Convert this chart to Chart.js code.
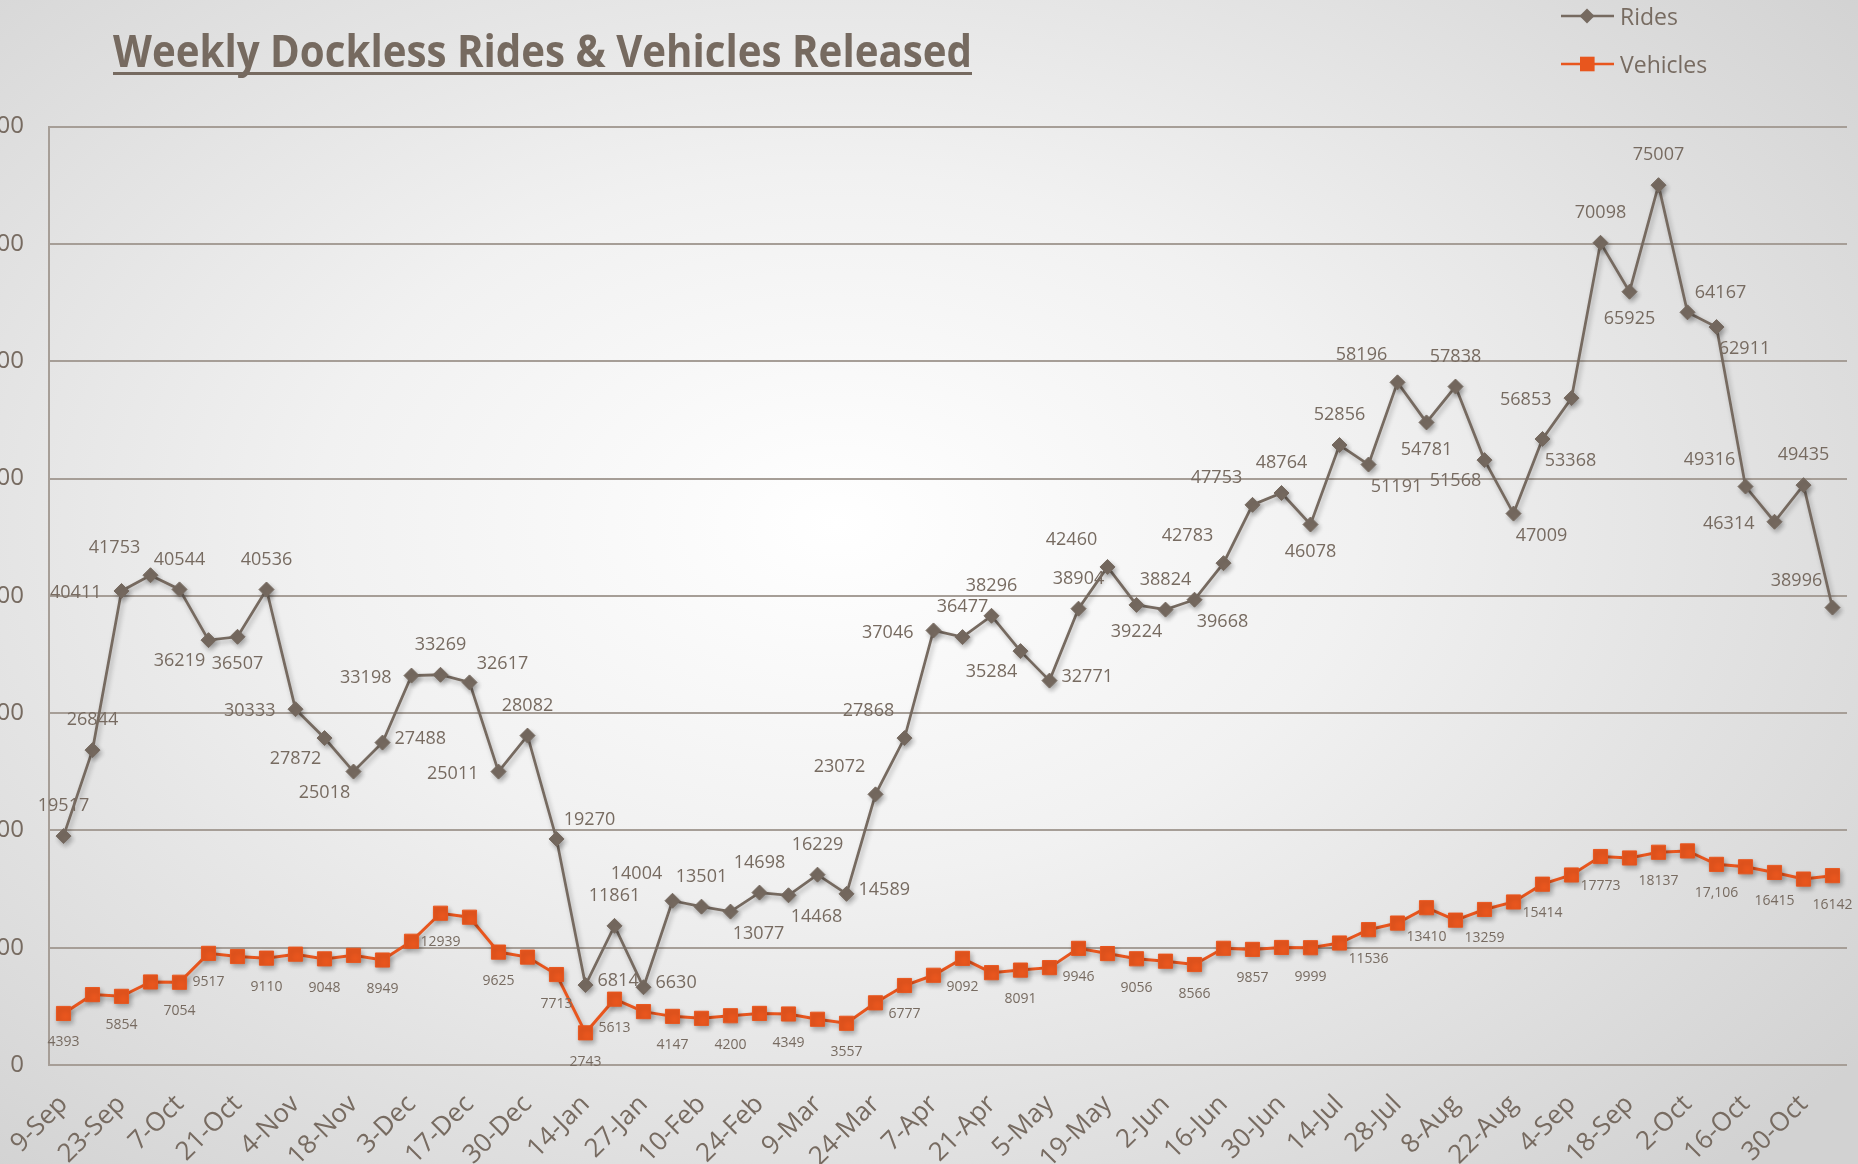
<!DOCTYPE html>
<html>
<head>
<meta charset="utf-8">
<title>Weekly Dockless Rides &amp; Vehicles Released</title>
<script src="https://cdn.jsdelivr.net/npm/chart.js@4.4.1/dist/chart.umd.min.js"></script>
<style>
    html, body { margin: 0; padding: 0; width: 1858px; height: 1164px; overflow: hidden; }
    body { background: radial-gradient(ellipse 70% 75% at 45% 45%, #ffffff 0%, #f1f1f1 40%, #d2d2d2 100%); }
    #wrap { position: absolute; left: -51px; top: 0; width: 1909px; height: 1164px; }
</style>
</head>
<body>
<div id="wrap"><canvas id="ridesChart"></canvas></div>
<script>
// 週次 (every other one is shown on the axis)
const weeks = [
    '9-Sep', '16-Sep', '23-Sep', '30-Sep', '7-Oct', '14-Oct', '21-Oct', '28-Oct', '4-Nov', '11-Nov',
    '18-Nov', '25-Nov', '3-Dec', '10-Dec', '17-Dec', '24-Dec', '30-Dec', '7-Jan', '14-Jan', '21-Jan',
    '27-Jan', '3-Feb', '10-Feb', '17-Feb', '24-Feb', '3-Mar', '9-Mar', '17-Mar', '24-Mar', '31-Mar',
    '7-Apr', '14-Apr', '21-Apr', '28-Apr', '5-May', '12-May', '19-May', '26-May', '2-Jun', '9-Jun',
    '16-Jun', '23-Jun', '30-Jun', '7-Jul', '14-Jul', '21-Jul', '28-Jul', '1-Aug', '8-Aug', '15-Aug',
    '22-Aug', '29-Aug', '4-Sep', '11-Sep', '18-Sep', '25-Sep', '2-Oct', '9-Oct', '16-Oct', '23-Oct',
    '30-Oct', '6-Nov'
];

const rides = [
    19517, 26844, 40411, 41753, 40544, 36219, 36507, 40536, 30333, 27872,
    25018, 27488, 33198, 33269, 32617, 25011, 28082, 19270, 6814, 11861,
    6630, 14004, 13501, 13077, 14698, 14468, 16229, 14589, 23072, 27868,
    37046, 36477, 38296, 35284, 32771, 38904, 42460, 39224, 38824, 39668,
    42783, 47753, 48764, 46078, 52856, 51191, 58196, 54781, 57838, 51568,
    47009, 53368, 56853, 70098, 65925, 75007, 64167, 62911, 49316, 46314,
    49435, 38996
];

const vehicles = [
    4393, 6000, 5854, 7080, 7054, 9517, 9250, 9110, 9450, 9048,
    9350, 8949, 10550, 12939, 12600, 9625, 9200, 7713, 2743, 5613,
    4550, 4147, 3980, 4200, 4400, 4349, 3900, 3557, 5300, 6777,
    7650, 9092, 7870, 8091, 8300, 9946, 9500, 9056, 8850, 8566,
    9950, 9857, 10020, 9999, 10400, 11536, 12100, 13410, 12350, 13259,
    13900, 15414, 16200, 17773, 17650, 18137, 18250, 17106, 16900, 16415,
    15850, 16142
];

// y 軸刻度
const yMin = 0;
const yMax = 80000;
const yStep = 10000;

// 數據標籤位置 (a=above, b=below, l=left, r=right ...)
const rideLabelPos = [
    'a', 'a', 'l', 'al', 'a', 'bl', 'b', 'a', 'l', 'bl',
    'bl', 'r', 'l', 'a', 'ar', 'l', 'a', 'ar', 'r', 'a',
    'r', 'al', 'a', 'br', 'a', 'br', 'a', 'r', 'al', 'al',
    'l', 'a', 'a', 'bl', 'r', 'a', 'al', 'b', 'a', 'br',
    'al', 'al', 'a', 'b', 'a', 'br', 'al', 'b', 'a', 'bl',
    'br', 'br', 'l', 'a', 'b', 'a', 'ar', 'br', 'al', 'l',
    'a', 'al'
];

// 只有這些點顯示車輛數標籤
const vehicleLabelIdx = [
    0, 2, 4, 5, 7, 9, 11, 13, 15, 17, 18, 19, 21, 23, 25, 27, 29, 31, 33, 35,
    37, 39, 41, 43, 45, 47, 49, 51, 53, 55, 57, 59, 61
];
const vehicleCommaIdx = [57];

const TITLE = 'Weekly Dockless Rides & Vehicles Released';
const TAUPE = '#766a60';
const ORANGE = '#e8561e';
const GRID = '#a69e97';
const TEXT = '#776b61';
const FONT = "'Open Sans', 'Noto Sans', sans-serif";

const labelOffsets = {
    a:  [0, -30, 'center'],
    b:  [0, 27, 'center'],
    l:  [-20, 2, 'right'],
    r:  [12, -4, 'left'],
    al: [-36, -27, 'center'],
    ar: [33, -19, 'center'],
    bl: [-29, 21, 'center'],
    br: [28, 22, 'center']
};

// 畫數據標籤
function drawValueLabels(chart) {
    const ctx = chart.ctx;
    const rideMeta = chart.getDatasetMeta(0);
    const vehMeta = chart.getDatasetMeta(1);
    ctx.save();
    ctx.fillStyle = TEXT;
    ctx.textBaseline = 'middle';
    ctx.font = `18px ${FONT}`;
    rideMeta.data.forEach((pt, i) => {
        const [dx, dy, align] = labelOffsets[rideLabelPos[i]];
        ctx.textAlign = align;
        ctx.fillText(String(rides[i]), pt.x + dx, pt.y + dy);
    });
    ctx.font = `14px ${FONT}`;
    ctx.textAlign = 'center';
    vehicleLabelIdx.forEach(i => {
        const pt = vehMeta.data[i];
        const txt = vehicleCommaIdx.includes(i) ? vehicles[i].toLocaleString('en-US') : String(vehicles[i]);
        ctx.fillText(txt, pt.x, pt.y + 29);
    });
    ctx.restore();
}

// 標題 (壓窄以接近原圖字體)
function drawTitle(chart) {
    const ctx = chart.ctx;
    const area = chart.chartArea;
    const x = area.left + 64;
    const y = 67;
    const targetWidth = 859;
    ctx.save();
    ctx.font = `bold 45px ${FONT}`;
    const w = ctx.measureText(TITLE).width;
    ctx.translate(x, y);
    ctx.scale(targetWidth / w, 1);
    ctx.fillStyle = TAUPE;
    ctx.textAlign = 'left';
    ctx.textBaseline = 'alphabetic';
    ctx.fillText(TITLE, 0, 0);
    ctx.restore();
    ctx.save();
    ctx.fillStyle = TAUPE;
    ctx.fillRect(x, y + 5, targetWidth, 3);
    ctx.restore();
}

// 圖例
function drawLegend(chart) {
    const ctx = chart.ctx;
    const x0 = chart.chartArea.right - 286;
    const items = chart.data.datasets;
    const rows = [16, 64];
    ctx.save();
    items.forEach((ds, i) => {
        const y = rows[i];
        ctx.strokeStyle = ds.borderColor;
        ctx.lineWidth = 2.5;
        ctx.beginPath();
        ctx.moveTo(x0, y);
        ctx.lineTo(x0 + 53, y);
        ctx.stroke();
        ctx.fillStyle = ds.borderColor;
        ctx.beginPath();
        if (ds.pointStyle === 'rectRot') {
            ctx.moveTo(x0 + 26, y - 7.5);
            ctx.lineTo(x0 + 33.5, y);
            ctx.lineTo(x0 + 26, y + 7.5);
            ctx.lineTo(x0 + 18.5, y);
            ctx.closePath();
        } else {
            ctx.rect(x0 + 19, y - 7.3, 14.6, 14.6);
        }
        ctx.fill();
        ctx.fillStyle = TEXT;
        ctx.font = `23px ${FONT}`;
        ctx.textAlign = 'left';
        ctx.textBaseline = 'alphabetic';
        ctx.fillText(ds.label, x0 + 59, y + 8.5);
    });
    ctx.restore();
}

const decorPlugin = {
    id: 'decor',
    beforeDatasetsDraw(chart) {
        const c = chart.ctx;
        c.save();
        c.shadowColor = 'rgba(0, 0, 0, 0.28)';
        c.shadowBlur = 5;
        c.shadowOffsetX = 2;
        c.shadowOffsetY = 3;
    },
    afterDatasetsDraw(chart) {
        chart.ctx.restore();
        drawValueLabels(chart);
    },
    afterDraw(chart) {
        drawTitle(chart);
        drawLegend(chart);
    }
};

document.addEventListener('DOMContentLoaded', () => {
    const ctx = document.getElementById('ridesChart').getContext('2d');
    new Chart(ctx, {
        type: 'line',
        data: {
            labels: weeks,
            datasets: [{
                label: 'Rides',
                data: rides,
                borderColor: TAUPE,
                backgroundColor: TAUPE,
                borderWidth: 2.75,
                pointStyle: 'rectRot',
                pointRadius: 7.5,
                pointBorderWidth: 1,
                pointBackgroundColor: TAUPE,
                pointBorderColor: TAUPE,
                tension: 0,
                fill: false
            }, {
                label: 'Vehicles',
                data: vehicles,
                borderColor: ORANGE,
                backgroundColor: ORANGE,
                borderWidth: 3,
                pointStyle: 'rect',
                pointRadius: 10,
                pointBorderWidth: 1,
                pointBackgroundColor: ORANGE,
                pointBorderColor: ORANGE,
                tension: 0,
                fill: false
            }]
        },
        options: {
            responsive: true,
            maintainAspectRatio: false,
            animation: false,
            layout: {
                padding: { top: 126.6, right: 8.5, bottom: 0, left: 0 }
            },
            plugins: {
                legend: { display: false },
                title: { display: false },
                tooltip: { enabled: false }
            },
            scales: {
                x: {
                    offset: true,
                    grid: { display: false, drawTicks: false },
                    border: { display: false },
                    ticks: {
                        autoSkip: false,
                        minRotation: 45,
                        maxRotation: 45,
                        padding: 24,
                        color: TEXT,
                        font: { family: FONT, size: 26 },
                        callback(value, index) {
                            return index % 2 === 0 ? this.getLabelForValue(value) : '';
                        }
                    },
                    afterFit(scale) {
                        scale.height = 99;
                        scale.paddingLeft = 0;
                        scale.paddingRight = 0;
                    }
                },
                y: {
                    min: yMin,
                    max: yMax,
                    grid: { color: GRID, lineWidth: 2, drawTicks: false },
                    border: { display: true, color: GRID, width: 2 },
                    ticks: {
                        stepSize: yStep,
                        padding: 25,
                        color: TEXT,
                        font: { family: FONT, size: 24 }
                    },
                    afterFit(scale) {
                        scale.width = 100;
                    }
                }
            }
        },
        plugins: [decorPlugin]
    });
});
</script>
</body>
</html>
